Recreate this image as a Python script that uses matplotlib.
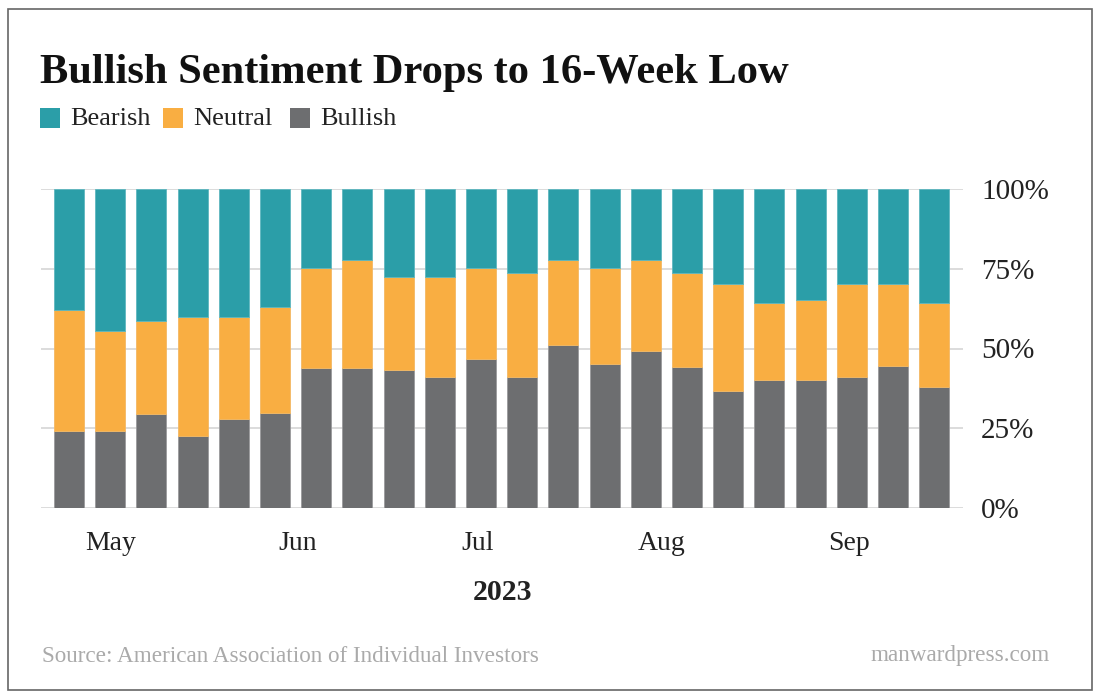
import matplotlib
matplotlib.use("Agg")
import matplotlib.pyplot as plt
from matplotlib.patches import Rectangle
import numpy as np

# ---- data ----
weeks = ["2023-04-26", "2023-05-03", "2023-05-10", "2023-05-17", "2023-05-24", "2023-05-31",
         "2023-06-07", "2023-06-14", "2023-06-21", "2023-06-28", "2023-07-05", "2023-07-12",
         "2023-07-19", "2023-07-26", "2023-08-02", "2023-08-09", "2023-08-16", "2023-08-23",
         "2023-08-30", "2023-09-06", "2023-09-13", "2023-09-20"]
bullish = [24.3, 24.3, 29.6, 22.6, 27.8, 29.8, 44.0, 44.0, 43.2, 41.2, 46.8, 41.2,
           51.2, 45.0, 49.3, 44.2, 36.8, 40.0, 40.0, 41.2, 44.4, 38.0]
neutral = [37.8, 31.2, 29.1, 37.4, 32.2, 33.3, 31.1, 33.8, 29.1, 31.1, 28.3, 32.4,
           26.5, 30.1, 28.4, 29.4, 33.4, 24.1, 25.1, 29.0, 25.8, 26.1]
bearish = [37.9, 44.5, 41.3, 40.0, 40.0, 36.9, 24.9, 22.2, 27.7, 27.7, 24.9, 26.4,
           22.3, 24.9, 22.3, 26.4, 29.8, 35.9, 34.9, 29.8, 29.8, 35.9]
month_labels = ["May", "Jun", "Jul", "Aug", "Sep"]
y_ticks = [0, 25, 50, 75, 100]
y_tick_labels = ["0%", "25%", "50%", "75%", "100%"]
series_names = ["Bearish", "Neutral", "Bullish"]

# ---- layout / style ----
month_tick_pos = [1.0, 5.56, 9.93, 14.39, 18.94]
C_BEAR = "#2B9EA8"
C_NEU = "#F9AE42"
C_BULL = "#6D6E70"
SERIF = ["Liberation Serif", "DejaVu Serif"]
plt.rcParams["font.family"] = SERIF

W, H = 1100, 700
fig = plt.figure(figsize=(W / 100, H / 100), dpi=100)
fig.patch.set_facecolor("white")

def fx(px):
    return px / W

def fy(py):
    return 1 - py / H

# outer frame
fig.patches.append(Rectangle((fx(8), fy(690)), fx(1092) - fx(8), fy(9) - fy(690),
                             transform=fig.transFigure, fill=False,
                             edgecolor="#666666", linewidth=1.2))

ax_l, ax_r, ax_t, ax_b = 41, 963, 188.7, 508.3
ax = fig.add_axes([fx(ax_l), fy(ax_b), fx(ax_r) - fx(ax_l), fy(ax_t) - fy(ax_b)])

x = np.arange(len(weeks))
bull = np.array(bullish)
neu = np.array(neutral)
bear = np.array(bearish)
tot = bull + neu + bear
bull_p = bull / tot * 100
neu_p = neu / tot * 100
bear_p = bear / tot * 100

bw = 0.73
ax.bar(x, bull_p, width=bw, color=C_BULL, edgecolor="#9a9a9c", linewidth=0.6, zorder=3)
ax.bar(x, neu_p, bottom=bull_p, width=bw, color=C_NEU, edgecolor="#f3b864", linewidth=0.6, zorder=3)
ax.bar(x, bear_p, bottom=bull_p + neu_p, width=bw, color=C_BEAR, edgecolor="#5fb7bf", linewidth=0.6, zorder=3)

ax.set_xlim(-0.68, 21.70)
ax.set_ylim(0, 100)
for s in ax.spines.values():
    s.set_visible(False)
ax.set_yticks(y_ticks)
ax.set_yticklabels(y_tick_labels)
ax.yaxis.tick_right()
ax.grid(axis="y", color="#d9d9d9", linewidth=1.3, zorder=0)
ax.tick_params(axis="y", length=0, pad=13, labelsize=21, labelcolor="#222222")
for lab in ax.get_yticklabels():
    lab.set_horizontalalignment("left")
ax.set_xticks(month_tick_pos)
ax.set_xticklabels(month_labels)
ax.tick_params(axis="x", length=0, pad=16, labelsize=20, labelcolor="#222222")

# year label
fig.text(fx(502), fy(593), "2023", ha="center", va="center", fontsize=21.5,
         fontweight="bold", color="#222222")

# title
fig.text(fx(40), fy(73), "Bullish Sentiment Drops to 16-Week Low", ha="left", va="center",
         fontsize=30.6, fontweight="bold", color="#111111")

# legend
leg_items = [(series_names[0], C_BEAR, 40), (series_names[1], C_NEU, 163), (series_names[2], C_BULL, 290)]
for name, col, px in leg_items:
    fig.patches.append(Rectangle((fx(px), fy(128)), fx(20), fy(108) - fy(128),
                                 transform=fig.transFigure, facecolor=col, edgecolor="none"))
    fig.text(fx(px + 30), fy(119), name, ha="left", va="center", fontsize=19, color="#222222")

# footer
fig.text(fx(42), fy(656), "Source: American Association of Individual Investors", ha="left",
         va="center", fontsize=16.7, color="#aaaaaa")
fig.text(fx(1050), fy(656), "manwardpress.com", ha="right", va="center", fontsize=16.7,
         color="#aaaaaa")

fig.savefig("out.png", dpi=100, facecolor="white")
